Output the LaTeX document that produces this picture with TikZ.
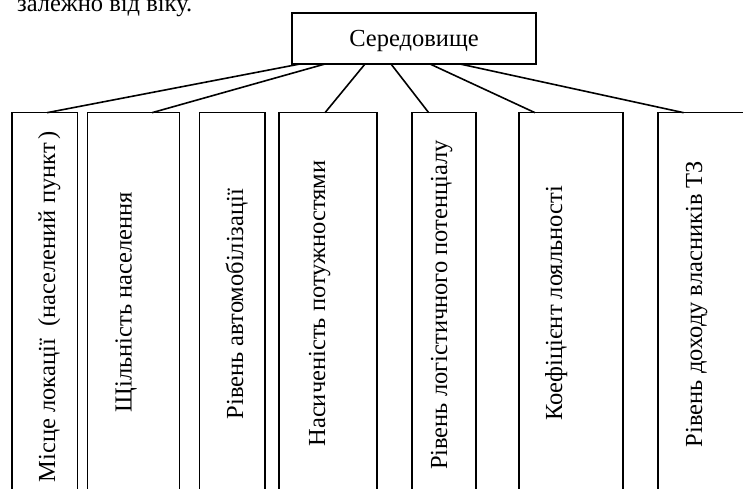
\documentclass[tikz,border=0pt]{standalone}
\usepackage{fontspec}
\setmainfont{Liberation Serif}
\usetikzlibrary{calc}
\begin{document}
\begin{tikzpicture}[x=1pt,y=1pt,line width=1.6pt,
  txt/.style={font=\fontsize{24.5}{28}\selectfont},
  box/.style={draw,rectangle,outer sep=0pt,inner sep=0pt,anchor=north west,minimum height=400pt},
  lbl/.style={txt,rotate=90,anchor=base,inner sep=0pt},
  conn/.style={line width=1.6pt}]
\useasboundingbox (0,0) rectangle (743,-489);
\clip (0,0) rectangle (743,-489);
% partial text line of the page above the figure
\node[txt,anchor=base east,inner sep=0pt] (cap) at (193,-12) {залежно від віку.};
% top box
\node[draw,txt,rectangle,outer sep=0pt,inner sep=0pt,minimum width=244pt,minimum height=51pt,
      text height=16.5pt,text depth=0pt] (top) at (414,-38.5) {Середовище};
% lower boxes
\node[box,minimum width=65.6pt]  (b1) at (11.7,-112.7) {};
\node[box,minimum width=92pt]    (b2) at (87.3,-112.7) {};
\node[box,minimum width=65.7pt]  (b3) at (199.3,-112.7) {};
\node[box,minimum width=97.7pt]  (b4) at (279,-112.7) {};
\node[box,minimum width=64.3pt]  (b5) at (411.7,-112.7) {};
\node[box,minimum width=103.7pt] (b6) at (519,-112.7) {};
\node[box,minimum width=102pt]   (b7) at (657.7,-112.7) {};
% labels
\node[lbl] (l1) at (55,-306.5) {Місце локації \ (населений пункт\,)};
\node[lbl] (l2) at (131.5,-302) {Щільність населення};
\node[lbl] (l3) at (243,-304) {Рівень автомобілізації};
\node[lbl] (l4) at (325,-303.5) {Насиченість потужностями};
\node[lbl] (l5) at (447,-305) {Рівень логістичного потенціалу};
\node[lbl] (l6) at (562,-303.5) {Коефіцієнт лояльності};
\node[lbl] (l7) at (702,-304) {Рівень доходу власників ТЗ};
% connector end points
\path (top.south west) ++(8,0) coordinate (s1)
      (top.south west) ++(33,0) coordinate (s2)
      (top.south west) ++(73,0) coordinate (s4)
      (top.south west) ++(99,0) coordinate (s5)
      (top.south west) ++(138,0) coordinate (s6)
      (top.south west) ++(168,0) coordinate (s7);
\path (b1.north west) ++(35.3,0) coordinate (e1)
      (b2.north west) ++(64.7,0) coordinate (e2)
      (b4.north west) ++(46,0) coordinate (e4)
      (b5.north west) ++(17,0) coordinate (e5)
      (b6.north west) ++(16,0) coordinate (e6)
      (b7.north west) ++(26,0) coordinate (e7);
\draw[conn] (s1) -- (e1);
\draw[conn] (s2) -- (e2);
\draw[conn] (s4) -- (e4);
\draw[conn] (s5) -- (e5);
\draw[conn] (s6) -- (e6);
\draw[conn] (s7) -- (e7);
\end{tikzpicture}
\end{document}
